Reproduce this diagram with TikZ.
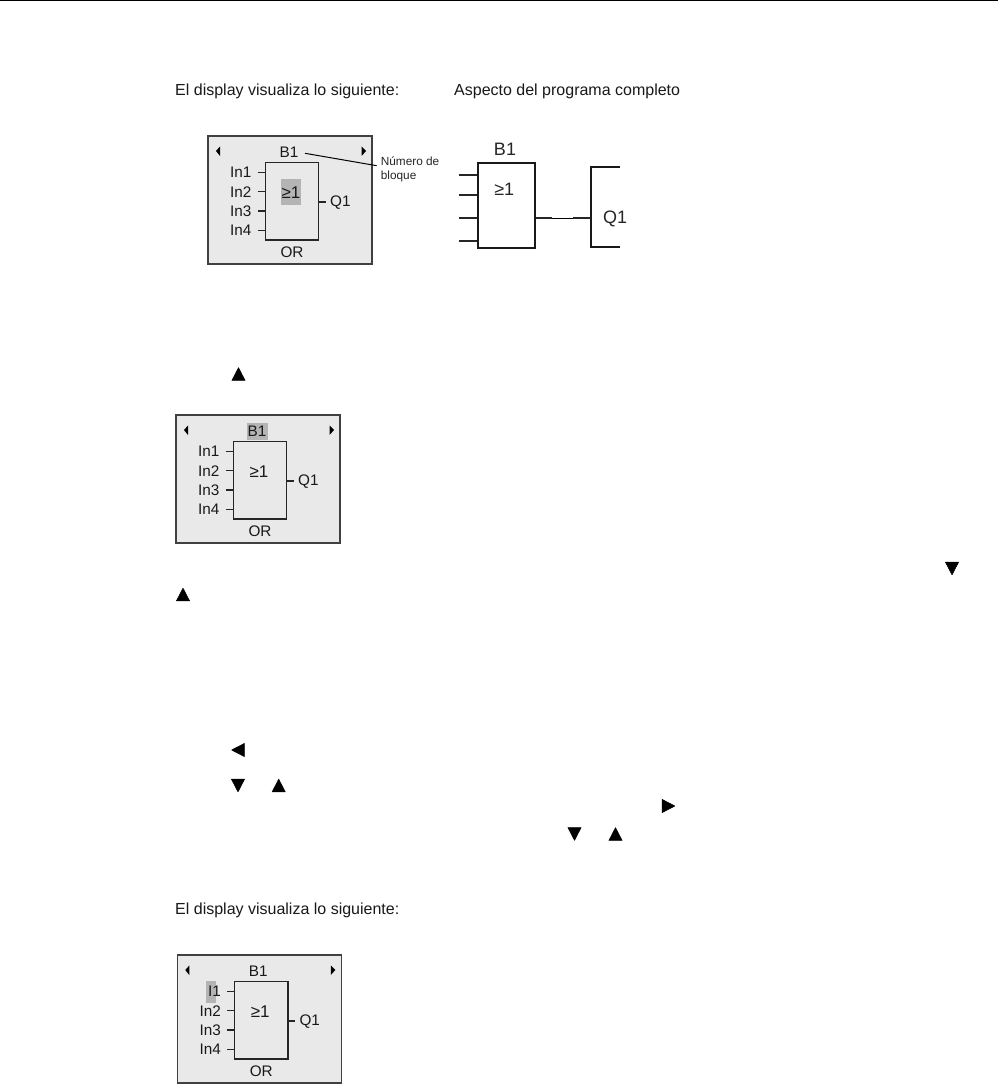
\documentclass[tikz,border=0pt]{standalone}
\usepackage{fontspec}
\setmainfont{Liberation Sans}
\definecolor{lcdfill}{HTML}{E9E9E9}
\definecolor{lcdedge}{HTML}{404040}
\definecolor{hilite}{HTML}{B4B4B4}
\tikzset{
  lcdframe/.style={draw=lcdedge,fill=lcdfill,line width=1.1pt},
  gatebox/.style={draw=black!85,line width=1.4pt},
  lcdtext/.style={inner sep=0pt,font=\fontsize{15.3}{17}\selectfont,text=black!90},
  pagetext/.style={inner sep=0pt,anchor=west,font=\fontsize{16}{18}\selectfont,text=black!90},
  bigtext/.style={inner sep=0pt,font=\fontsize{18}{20}\selectfont,text=black!85},
  tinytext/.style={inner sep=0pt,anchor=west,font=\fontsize{11.8}{13}\selectfont,text=black!85},
  stub/.style={draw=black!85,line width=1.5pt},
  wire/.style={draw=black!85,line width=2pt},
  thinwire/.style={draw=black,line width=.9pt},
  keyshape/.style={fill=black,draw=black,line width=.5pt,line join=round},
}
\newcommand{\keyup}[2]{\path[keyshape] (#1-6.6,#2+6.4) -- (#1+6.6,#2+6.4) -- (#1,#2-6.4) -- cycle;}
\newcommand{\keydown}[2]{\path[keyshape] (#1-6.6,#2-6.4) -- (#1+6.6,#2-6.4) -- (#1,#2+6.4) -- cycle;}
\newcommand{\keyleft}[2]{\path[keyshape] (#1+6.4,#2-6.6) -- (#1+6.4,#2+6.6) -- (#1-6.4,#2) -- cycle;}
\newcommand{\keyright}[2]{\path[keyshape] (#1-6.4,#2-6.6) -- (#1-6.4,#2+6.6) -- (#1+6.4,#2) -- cycle;}
\newcommand{\lcdpanel}[5]{%
\begin{scope}[shift={(#2,#3)},name prefix=#1-]
  \path[lcdframe] (0,0) rectangle (164,128);
  #4
  \path[fill=black] (8,15) -- (12,10.5) -- (12,20) -- cycle;
  \path[fill=black] (158,15) -- (153.5,10.5) -- (153.5,20) -- cycle;
  \node[gatebox,minimum width=53.5pt,minimum height=77.5pt,inner sep=0pt,anchor=north west] (gate) at (56.5,25.7) {};
  \node[lcdtext] (title) at (81,16.5) {B1};
  \node[lcdtext,font=\fontsize{17}{19}\selectfont] (sym) at (83,57) {≥1};
  \node[lcdtext] (kind) at (84,116) {OR};
  \node[lcdtext,anchor=east] (i1) at (43.7,36.6) {#5};
  \node[lcdtext,anchor=east] (i2) at (43.7,55.8) {In2};
  \node[lcdtext,anchor=east] (i3) at (43.7,75.2) {In3};
  \node[lcdtext,anchor=east] (i4) at (43.7,94.7) {In4};
  \node[lcdtext,anchor=west] (q) at (122,66.3) {Q1};
  \coordinate (s1) at (49.5,36.3);
  \coordinate (s2) at (49.5,55.5);
  \coordinate (s3) at (49.5,75);
  \coordinate (s4) at (49.5,94.3);
  \coordinate (sq) at (117.5,66);
  \draw[stub] (s1) -- (s1-|gate.west);
  \draw[stub] (s2) -- (s2-|gate.west);
  \draw[stub] (s3) -- (s3-|gate.west);
  \draw[stub] (s4) -- (s4-|gate.west);
  \draw[stub] (sq) -- (sq-|gate.east);
\end{scope}}
\begin{document}
\begin{tikzpicture}[x=1pt,y=-1pt]
\useasboundingbox[fill=white] (0,0) rectangle (998,1086);
\coordinate (ruleL) at (0,0.5);
\coordinate (ruleR) at (998,0.5);
\draw[black,line width=1.4pt] (ruleL) -- (ruleR);

\node[pagetext] (t1) at (175,91.5) {El display visualiza lo siguiente:};
\node[pagetext] (t2) at (454,91.5) {Aspecto del programa completo};

\lcdpanel{a}{208}{136}{\fill[hilite] (73,43) rectangle (93,69);}{In1}
\node[tinytext] (blocknum) at (380.7,161.7) {Número de};
\node[tinytext] (blocknum2) at (380.7,176) {bloque};
\coordinate (calloutS) at (305,153.3);
\coordinate (calloutE) at (376.7,165.7);
\draw[black,line width=1pt] (calloutS) -- (calloutE);

\node[draw=black!90,line width=1.9pt,minimum width=57pt,minimum height=85pt,inner sep=0pt,anchor=north west] (bigate) at (477.3,161.7) {};
\node[bigtext] (bigB) at (505,149.5) {B1};
\node[bigtext] (bigS) at (504.3,189.5) {≥1};
\node[bigtext] (bigQ) at (615,218.5) {Q1};
\coordinate (b1) at (459.3,175.3);
\coordinate (b2) at (459.3,195.3);
\coordinate (b3) at (459.3,218.3);
\coordinate (b4) at (459.3,241);
\draw[wire] (b1) -- (b1-|bigate.west);
\draw[wire] (b2) -- (b2-|bigate.west);
\draw[wire] (b3) -- (b3-|bigate.west);
\draw[wire] (b4) -- (b4-|bigate.west);
\coordinate (brT) at (620,167);
\coordinate (brTL) at (590.7,167);
\coordinate (brBL) at (590.7,246.7);
\coordinate (brB) at (620,246.7);
\draw[draw=black!90,line width=1.9pt] (brT) -- (brTL) -- (brBL) -- (brB);
\coordinate (w1) at (551.7,218.3);
\coordinate (w2) at (573,218.3);
\coordinate (w3) at (590.7,218.3);
\draw[wire] (bigate.east|-w1) -- (w1);
\draw[thinwire] (w1) -- (w2);
\draw[wire] (w2) -- (w3);

\keyup{238.5}{374}

\lcdpanel{b}{176}{415}{\fill[hilite] (71,7.5) rectangle (92,24.5);}{In1}

\keydown{952}{568.5}
\keyup{183}{594.5}

\keyleft{238}{750}
\keydown{238}{785.5}
\keyup{278.7}{785.5}
\keyright{668.5}{806}
\keydown{574.5}{834}
\keyup{615.5}{834}

\node[pagetext] (t3) at (175,910.5) {El display visualiza lo siguiente:};

\lcdpanel{c}{177.3}{955}{\fill[hilite] (29,26) rectangle (39,47.5);}{I1}
\end{tikzpicture}
\end{document}
